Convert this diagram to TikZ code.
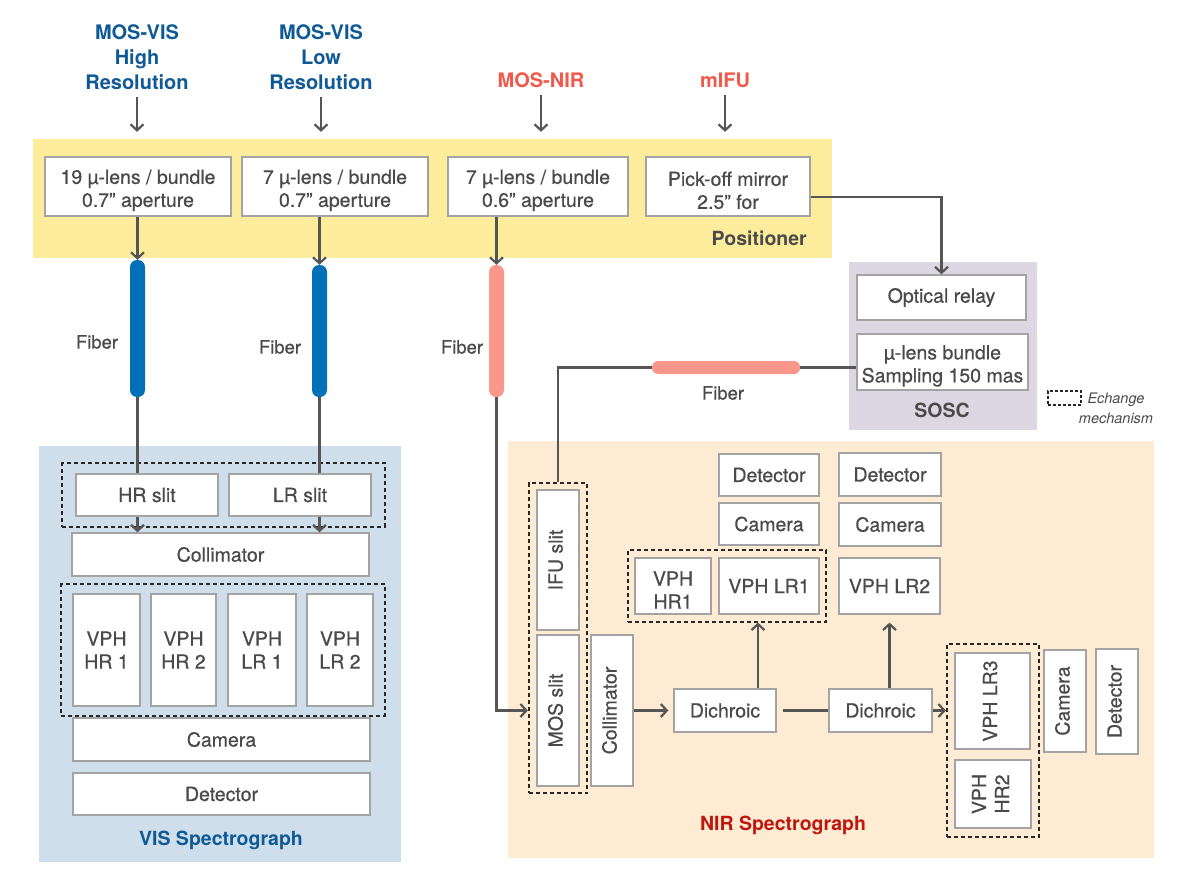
\documentclass[tikz,border=0pt]{standalone}
\usepackage{fontspec}
\setmainfont{TeX Gyre Heros}
\newfontfamily\medfont[FakeBold=0.6]{TeX Gyre Heros}
\usetikzlibrary{arrows.meta,fit,positioning}

\definecolor{posyellow}{HTML}{FCEC9B}
\definecolor{vispanel}{HTML}{CEDEEA}
\definecolor{nirpanel}{HTML}{FDEBD3}
\definecolor{soscpanel}{HTML}{DCD7E2}
\definecolor{fibblue}{HTML}{0071B8}
\definecolor{fibsalmon}{HTML}{FA968A}
\definecolor{visblue}{HTML}{0F5A96}
\definecolor{nirsalmon}{HTML}{F2594B}
\definecolor{nirred}{HTML}{C0170D}
\definecolor{txtgray}{HTML}{4A4A4A}
\definecolor{boxgray}{HTML}{A3A3A3}
\definecolor{arrgray}{HTML}{555555}

\newcommand{\vtxt}[1]{\rotatebox{90}{\begin{tabular}{@{}c@{}}#1\end{tabular}}}

\tikzset{
  optbox/.style={draw=boxgray, line width=1.4pt, fill=white, text=txtgray, align=center, inner sep=0pt,
    font=\medfont\fontsize{19.5}{23}\selectfont},
  twoline/.style={text height=45pt},
  panel/.style={inner sep=0pt, draw=none},
  exch/.style={draw=black!85, line width=1.8pt, dash pattern=on 4pt off 3pt},
  fibre/.style={rounded corners=7pt, minimum width=15pt, inner sep=0pt, draw=none},
  flow/.style={draw=arrgray, line width=2.2pt, -{Straight Barb[length=6pt,width=13pt,line width=2.2pt]}},
  link/.style={draw=arrgray, line width=2.2pt},
  ttl/.style={align=center, inner sep=7pt, font=\bfseries\fontsize{20}{25}\selectfont},
  lbl/.style={text=txtgray, inner sep=0pt, font=\medfont\fontsize{18.5}{22}\selectfont},
}

\begin{document}
\begin{tikzpicture}[x=1pt,y=-1pt]
\useasboundingbox (0,0) rectangle (1181,883);

% panels
\node[panel, fill=posyellow, minimum width=799, minimum height=119] (posband) at (432.5,198.5) {};
\node[panel, fill=vispanel, minimum width=362, minimum height=416] (vispan) at (220,654) {};
\node[panel, fill=nirpanel, minimum width=646, minimum height=417] (nirpan) at (831,649.5) {};
\node[panel, fill=soscpanel, minimum width=188, minimum height=168] (soscpan) at (943,346) {};

% inputs
\node[ttl, text=visblue] (visHR) at (137,57) {MOS-VIS\\High\\Resolution};
\node[ttl, text=visblue] (visLR) at (321,57) {MOS-VIS\\Low\\Resolution};
\node[ttl, text=nirsalmon] (nirMOS) at (541,80) {MOS-NIR};
\node[ttl, text=nirsalmon] (nirIFU) at (725,80) {mIFU};
\draw[flow, shorten >=7pt] (visHR.south) -- (visHR.south |- posband.north);
\draw[flow, shorten >=7pt] (visLR.south) -- (visLR.south |- posband.north);
\draw[flow, shorten >=7pt] (nirMOS.south) -- (nirMOS.south |- posband.north);
\draw[flow, shorten >=7pt] (nirIFU.south) -- (nirIFU.south |- posband.north);

% positioner
\node[optbox, twoline, minimum width=186, minimum height=59] (lensHR) at (138,186.5) {19 µ-lens / bundle\\0.7” aperture};
\node[optbox, twoline, minimum width=186, minimum height=59] (lensLR) at (335,186.5) {7 µ-lens / bundle\\0.7” aperture};
\node[optbox, twoline, minimum width=180, minimum height=59] (lensNIR) at (538,186.5) {7 µ-lens / bundle\\0.6” aperture};
\node[optbox, twoline, minimum width=164, minimum height=59] (pickoff) at (728,186.5) {Pick-off mirror\\2.5” for};
\node[lbl, font=\bfseries\fontsize{19.5}{23}\selectfont, anchor=east] (posname) at (807,238) {Positioner};

% fibers
\node[fibre, fill=fibblue, minimum height=137] (fibHR) at (137.5,328.5) {};
\node[fibre, fill=fibblue, minimum height=132] (fibLR) at (319.5,331) {};
\node[fibre, fill=fibsalmon, minimum height=132] (fibNIR) at (496.5,331) {};
\node[fibre, fill=fibsalmon, minimum width=148, minimum height=13, rounded corners=6pt] (fibIFU) at (726,367.5) {};
\node[lbl] (fibHRlbl) at (97,342) {Fiber};
\node[lbl] (fibLRlbl) at (280,347) {Fiber};
\node[lbl] (fibNIRlbl) at (462,347) {Fiber};
\node[lbl] (fibIFUlbl) at (723,393) {Fiber};
\draw[flow] (lensHR.south -| fibHR) -- (fibHR.north);
\draw[flow] (lensLR.south -| fibLR) -- (fibLR.north);
\draw[flow] (lensNIR.south -| fibNIR) -- (fibNIR.north);

% SOSC
\node[optbox, minimum width=169, minimum height=45] (relay) at (941.5,297.5) {Optical relay};
\node[optbox, twoline, minimum width=171, minimum height=56] (mulens) at (942.5,362) {µ-lens bundle\\Sampling 150 mas};
\node[lbl, font=\bfseries\fontsize{19.5}{23}\selectfont] (soscname) at (942,410) {SOSC};
\draw[flow] ([yshift=-10.5pt]pickoff.east) -| (relay.north);

% legend
\node[exch, line width=1.3pt, dash pattern=on 3pt off 2pt, minimum width=33, minimum height=14, inner sep=0pt] (legbox) at (1064.5,398) {};
\node[text=txtgray, align=center, inner sep=0pt, font=\itshape\fontsize{14.5}{20}\selectfont] (legtxt) at (1116,408) {Echange\\mechanism};

% VIS spectrograph
\node[optbox, minimum width=142, minimum height=42] (hrslit) at (147,495) {HR slit};
\node[optbox, minimum width=142, minimum height=42] (lrslit) at (300,495) {LR slit};
\node[exch, fit=(hrslit)(lrslit), inner xsep=13pt, inner ysep=10pt] (visslits) {};
\node[optbox, minimum width=297, minimum height=43] (viscoll) at (220.5,554.5) {Collimator};
\node[optbox, minimum width=67, minimum height=112] (vphA) at (106.5,650) {VPH\\HR 1};
\node[optbox, minimum width=65, minimum height=112] (vphB) at (183.5,650) {VPH\\HR 2};
\node[optbox, minimum width=68, minimum height=112] (vphC) at (262,650) {VPH\\LR 1};
\node[optbox, minimum width=66, minimum height=112] (vphD) at (340,650) {VPH\\LR 2};
\node[exch, fit=(vphA)(vphD), inner xsep=11pt, inner ysep=9pt] (visvph) {};
\node[optbox, minimum width=297, minimum height=43] (viscam) at (221.5,739.5) {Camera};
\node[optbox, minimum width=297, minimum height=42] (visdet) at (221.5,794) {Detector};
\node[lbl, text=visblue, font=\bfseries\fontsize{19.5}{23}\selectfont] (visname) at (221,840) {VIS Spectrograph};
\draw[link] (fibHR.south) -- (fibHR.south |- hrslit.north);
\draw[link] (fibLR.south) -- (fibLR.south |- lrslit.north);
\draw[flow] (hrslit.south -| fibHR) -- (viscoll.north -| fibHR);
\draw[flow] (lrslit.south -| fibLR) -- (viscoll.north -| fibLR);

% NIR spectrograph
\node[optbox, minimum width=42, minimum height=140] (ifuslit) at (558,560) {\vtxt{IFU slit}};
\node[optbox, minimum width=42, minimum height=151] (mosslit) at (558,710.5) {\vtxt{MOS slit}};
\node[exch, fit=(ifuslit)(mosslit), inner xsep=7.5pt, inner ysep=6.5pt] (nirslits) {};
\node[optbox, minimum width=42, minimum height=151] (nircoll) at (612,710.5) {\vtxt{Collimator}};
\node[optbox, minimum width=102, minimum height=43] (dichA) at (725,710.5) {Dichroic};
\node[optbox, twoline, minimum width=76, minimum height=56] (vphHRa) at (673,586) {VPH\\HR1};
\node[optbox, minimum width=100, minimum height=56] (vphLRa) at (769,586) {VPH LR1};
\node[exch, fit=(vphHRa)(vphLRa), inner xsep=6.5pt, inner ysep=7pt] (nirvph) {};
\node[optbox, minimum width=100, minimum height=42] (camA) at (769,524) {Camera};
\node[optbox, minimum width=100, minimum height=42] (detA) at (769,475) {Detector};
\node[optbox, minimum width=103, minimum height=43] (dichB) at (880.5,710.5) {Dichroic};
\node[optbox, minimum width=101, minimum height=56] (vphLRb) at (889.5,586) {VPH LR2};
\node[optbox, minimum width=102, minimum height=43] (camB) at (890,524.5) {Camera};
\node[optbox, minimum width=102, minimum height=43] (detB) at (890,474.5) {Detector};
\node[optbox, minimum width=75, minimum height=96] (vphLRc) at (992.5,701) {\vtxt{VPH LR3}};
\node[optbox, minimum width=76, minimum height=68] (vphHRb) at (993,794) {\vtxt{VPH\\HR2}};
\node[exch, fit=(vphLRc)(vphHRb), inner xsep=7.5pt, inner ysep=8pt] (nirvph3) {};
\node[optbox, minimum width=42, minimum height=102] (camC) at (1065,701) {\vtxt{Camera}};
\node[optbox, minimum width=42, minimum height=105] (detC) at (1117,701.5) {\vtxt{Detector}};
\node[lbl, text=nirred, font=\bfseries\fontsize{19.5}{23}\selectfont] (nirname) at (783,825) {NIR Spectrograph};

\draw[link] (fibIFU.east -| mulens.west) -- (fibIFU.east);
\draw[link] (fibIFU.west) -| (nirslits.north);
\draw[flow] (fibNIR.south) |- (nirslits.west |- mosslit);
\draw[flow, shorten >=5pt] (nircoll) -- (dichA);
\draw[flow] ([xshift=33pt]dichA.north) -- ([xshift=33pt]dichA.north |- nirvph.south);
\draw[link, shorten <=6pt] (dichA) -- (dichB);
\draw[flow] (dichB.north -| vphLRb) -- (nirvph.south -| vphLRb);
\draw[flow] (dichB.east) -- (dichB.east -| nirvph3.west);
\end{tikzpicture}
\end{document}
